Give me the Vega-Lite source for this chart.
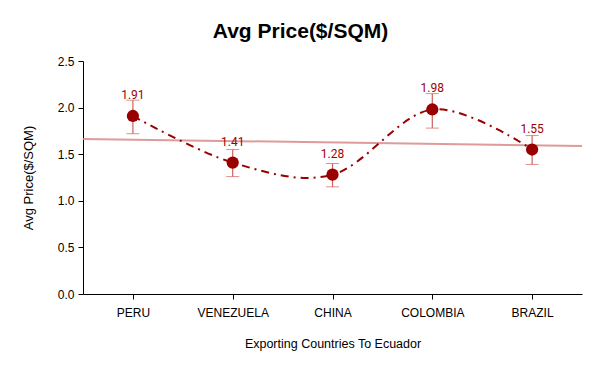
{
  "$schema": "https://vega.github.io/schema/vega-lite/v6.json",
  "width": 499,
  "height": 233,
  "autosize": {"type": "none"},
  "padding": {"left": 83, "top": 61, "right": 18, "bottom": 77},
  "background": "white",
  "title": {"text": "Avg Price($/SQM)", "font": "Liberation Sans", "fontSize": 21, "fontWeight": "bold", "color": "#000", "dx": -32, "offset": 13},
  "config": {"view": {"stroke": null}, "axis": {"labelFont": "Liberation Sans", "titleFont": "Liberation Sans", "labelFontSize": 12, "titleFontSize": 12.5, "titleFontWeight": "normal", "labelColor": "#000", "titleColor": "#000", "domainColor": "#000", "tickColor": "#000", "grid": false, "tickSize": 5}},
  "datasets": {
    "pts": [
      {"i": 1, "country": "PERU", "price": 1.91, "lo": 1.72, "hi": 2.08},
      {"i": 2, "country": "VENEZUELA", "price": 1.41, "lo": 1.26, "hi": 1.55},
      {"i": 3, "country": "CHINA", "price": 1.28, "lo": 1.15, "hi": 1.40},
      {"i": 4, "country": "COLOMBIA", "price": 1.98, "lo": 1.78, "hi": 2.15},
      {"i": 5, "country": "BRAZIL", "price": 1.55, "lo": 1.39, "hi": 1.70}
    ],
    "trend": [
      {"i": 0.5, "price": 1.6635},
      {"i": 5.5, "price": 1.5885}
    ]
  },
  "encoding": {
    "x": {"field": "i", "type": "quantitative", "scale": {"domain": [0.5, 5.5], "nice": false, "zero": false},
      "axis": {"values": [1, 2, 3, 4, 5], "title": "Exporting Countries To Ecuador", "labelExpr": "['','PERU','VENEZUELA','CHINA','COLOMBIA','BRAZIL'][datum.value]", "labelPadding": 8, "titlePadding": 19}},
    "y": {"field": "price", "type": "quantitative", "scale": {"domain": [0, 2.5], "nice": false},
      "axis": {"values": [0, 0.5, 1, 1.5, 2, 2.5], "format": ".1f", "title": "Avg Price($/SQM)", "titleFontSize": 13, "titlePadding": 22, "labelPadding": 4}}
  },
  "layer": [
    {
      "data": {"name": "trend"},
      "mark": {"type": "line", "color": "#d88a8a", "strokeWidth": 2, "opacity": 0.85},
      "encoding": {}
    },
    {
      "data": {"name": "pts"},
      "mark": {"type": "line", "color": "#990000", "strokeWidth": 2, "interpolate": "cardinal", "strokeDash": [8, 5, 2, 5]},
      "encoding": {}
    },
    {
      "data": {"name": "pts"},
      "mark": {"type": "errorbar", "ticks": {"size": 13, "color": "#d06060"}, "rule": {"color": "#d06060", "strokeWidth": 1.2}, "color": "#d06060"},
      "encoding": {"y": {"field": "lo", "type": "quantitative"}, "y2": {"field": "hi"}}
    },
    {
      "data": {"name": "pts"},
      "mark": {"type": "circle", "color": "#990000", "size": 150, "opacity": 1},
      "encoding": {}
    },
    {
      "data": {"name": "pts"},
      "mark": {"type": "text", "color": "#a00000", "font": "Roboto", "fontSize": 12, "dy": -21, "baseline": "middle"},
      "encoding": {"text": {"field": "price", "type": "quantitative", "format": ".2f"}}
    }
  ]
}
